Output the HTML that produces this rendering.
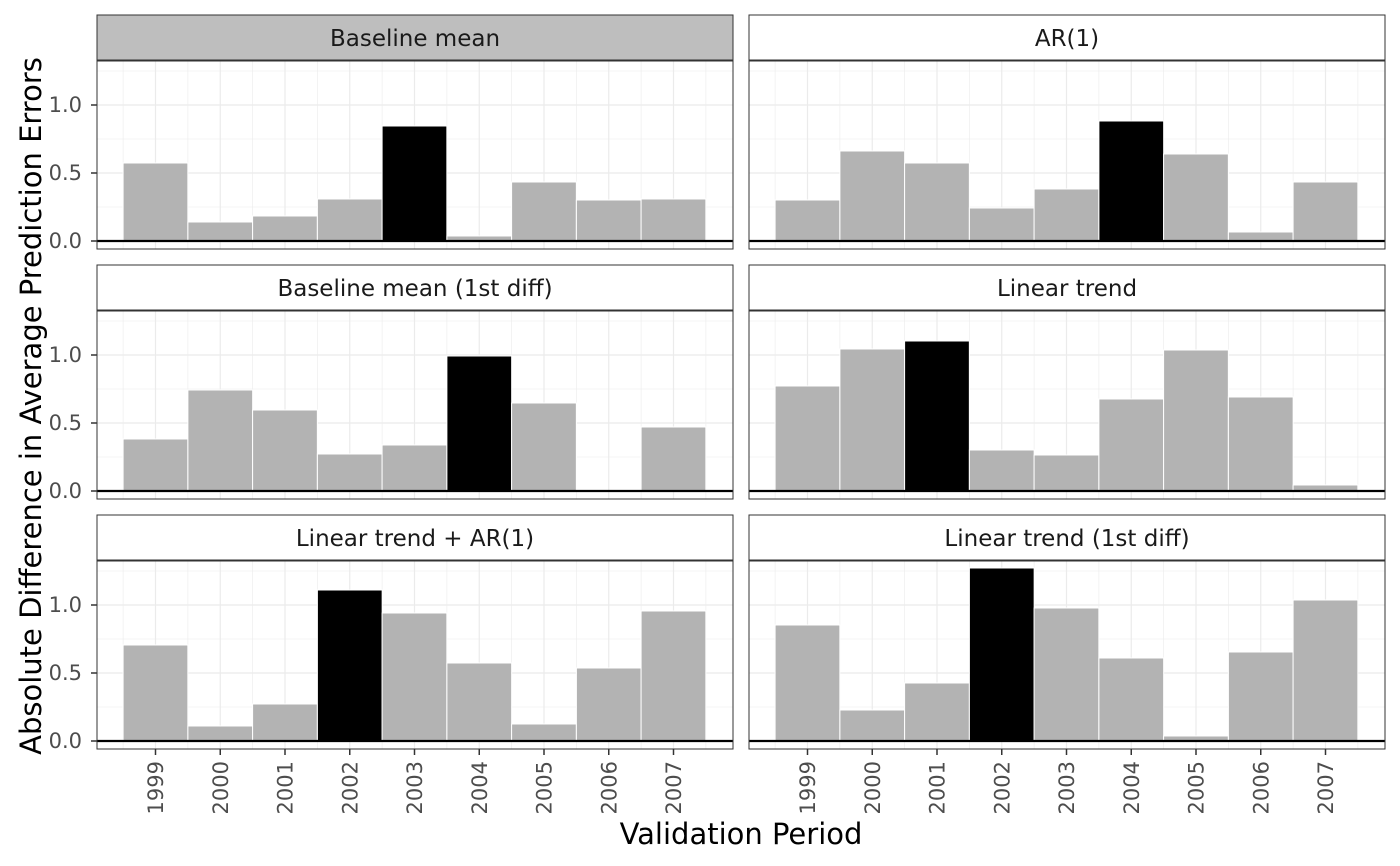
<!DOCTYPE html>
<html><head><meta charset="utf-8"><style>body{margin:0;background:#fff}svg{display:block}text{font-family:"DejaVu Sans","Liberation Sans",sans-serif}</style></head><body>
<svg width="1400" height="866" viewBox="0 0 1400 866" xmlns="http://www.w3.org/2000/svg">
<defs>
<g id="grid">
<rect x="0" y="0" width="636" height="188" fill="#fff"/>
<g stroke="#ebebeb" stroke-width="0.6">
<line x1="0" x2="636" y1="146" y2="146"/><line x1="0" x2="636" y1="78" y2="78"/><line x1="0" x2="636" y1="10" y2="10"/>
<line x1="26.1" x2="26.1" y1="0" y2="188"/><line x1="90.9" x2="90.9" y1="0" y2="188"/><line x1="155.6" x2="155.6" y1="0" y2="188"/><line x1="220.4" x2="220.4" y1="0" y2="188"/><line x1="285.1" x2="285.1" y1="0" y2="188"/><line x1="349.9" x2="349.9" y1="0" y2="188"/><line x1="414.6" x2="414.6" y1="0" y2="188"/><line x1="479.4" x2="479.4" y1="0" y2="188"/><line x1="544.1" x2="544.1" y1="0" y2="188"/><line x1="608.9" x2="608.9" y1="0" y2="188"/>
</g>
<g stroke="#ebebeb" stroke-width="1.2">
<line x1="0" x2="636" y1="180" y2="180"/><line x1="0" x2="636" y1="112" y2="112"/><line x1="0" x2="636" y1="44" y2="44"/>
<line x1="58.5" x2="58.5" y1="0" y2="188"/><line x1="123.25" x2="123.25" y1="0" y2="188"/><line x1="188" x2="188" y1="0" y2="188"/><line x1="252.75" x2="252.75" y1="0" y2="188"/><line x1="317.5" x2="317.5" y1="0" y2="188"/><line x1="382.25" x2="382.25" y1="0" y2="188"/><line x1="447" x2="447" y1="0" y2="188"/><line x1="511.75" x2="511.75" y1="0" y2="188"/><line x1="576.5" x2="576.5" y1="0" y2="188"/>
</g>
</g>
</defs>

<g stroke="#333" stroke-width="1">
<rect x="97" y="15" width="636" height="45" fill="#bebebe"/>
<rect x="749" y="15" width="636" height="45" fill="#fff"/>
<rect x="97" y="265" width="636" height="45" fill="#fff"/>
<rect x="749" y="265" width="636" height="45" fill="#fff"/>
<rect x="97" y="515" width="636" height="45" fill="#fff"/>
<rect x="749" y="515" width="636" height="45" fill="#fff"/>
</g>
<g font-size="23" fill="#1a1a1a" text-anchor="middle">
<text x="415" y="46">Baseline mean</text>
<text x="1067" y="46">AR(1)</text>
<text x="415" y="296">Baseline mean (1st diff)</text>
<text x="1067" y="296">Linear trend</text>
<text x="415" y="546">Linear trend + AR(1)</text>
<text x="1067" y="546">Linear trend (1st diff)</text>
</g>

<g transform="translate(97,61)">
<use href="#grid"/>
<g fill="#b3b3b3" stroke="#fff" stroke-width="1">
<rect x="26.1" y="102" width="64.75" height="78"/>
<rect x="90.9" y="161" width="64.75" height="19"/>
<rect x="155.6" y="155" width="64.75" height="25"/>
<rect x="220.4" y="138" width="64.75" height="42"/>
<rect x="285.1" y="65" width="64.75" height="115" fill="#000"/>
<rect x="349.9" y="175" width="64.75" height="5"/>
<rect x="414.6" y="121" width="64.75" height="59"/>
<rect x="479.4" y="139" width="64.75" height="41"/>
<rect x="544.1" y="138" width="64.75" height="42"/>
</g>
<line x1="0" x2="636" y1="180" y2="180" stroke="#000" stroke-width="2.2"/>
<rect x="0" y="0" width="636" height="188" fill="none" stroke="#333" stroke-width="1"/>
</g>
<g transform="translate(749,61)">
<use href="#grid"/>
<g fill="#b3b3b3" stroke="#fff" stroke-width="1">
<rect x="26.1" y="139" width="64.75" height="41"/>
<rect x="90.9" y="90" width="64.75" height="90"/>
<rect x="155.6" y="102" width="64.75" height="78"/>
<rect x="220.4" y="147" width="64.75" height="33"/>
<rect x="285.1" y="128" width="64.75" height="52"/>
<rect x="349.9" y="60" width="64.75" height="120" fill="#000"/>
<rect x="414.6" y="93" width="64.75" height="87"/>
<rect x="479.4" y="171" width="64.75" height="9"/>
<rect x="544.1" y="121" width="64.75" height="59"/>
</g>
<line x1="0" x2="636" y1="180" y2="180" stroke="#000" stroke-width="2.2"/>
<rect x="0" y="0" width="636" height="188" fill="none" stroke="#333" stroke-width="1"/>
</g>
<g transform="translate(97,311)">
<use href="#grid"/>
<g fill="#b3b3b3" stroke="#fff" stroke-width="1">
<rect x="26.1" y="128" width="64.75" height="52"/>
<rect x="90.9" y="79" width="64.75" height="101"/>
<rect x="155.6" y="99" width="64.75" height="81"/>
<rect x="220.4" y="143" width="64.75" height="37"/>
<rect x="285.1" y="134" width="64.75" height="46"/>
<rect x="349.9" y="45" width="64.75" height="135" fill="#000"/>
<rect x="414.6" y="92" width="64.75" height="88"/>
<rect x="544.1" y="116" width="64.75" height="64"/>
</g>
<line x1="0" x2="636" y1="180" y2="180" stroke="#000" stroke-width="2.2"/>
<rect x="0" y="0" width="636" height="188" fill="none" stroke="#333" stroke-width="1"/>
</g>
<g transform="translate(749,311)">
<use href="#grid"/>
<g fill="#b3b3b3" stroke="#fff" stroke-width="1">
<rect x="26.1" y="75" width="64.75" height="105"/>
<rect x="90.9" y="38" width="64.75" height="142"/>
<rect x="155.6" y="30" width="64.75" height="150" fill="#000"/>
<rect x="220.4" y="139" width="64.75" height="41"/>
<rect x="285.1" y="144" width="64.75" height="36"/>
<rect x="349.9" y="88" width="64.75" height="92"/>
<rect x="414.6" y="39" width="64.75" height="141"/>
<rect x="479.4" y="86" width="64.75" height="94"/>
<rect x="544.1" y="174" width="64.75" height="6"/>
</g>
<line x1="0" x2="636" y1="180" y2="180" stroke="#000" stroke-width="2.2"/>
<rect x="0" y="0" width="636" height="188" fill="none" stroke="#333" stroke-width="1"/>
</g>
<g transform="translate(97,561)">
<use href="#grid"/>
<g fill="#b3b3b3" stroke="#fff" stroke-width="1">
<rect x="26.1" y="84" width="64.75" height="96"/>
<rect x="90.9" y="165" width="64.75" height="15"/>
<rect x="155.6" y="143" width="64.75" height="37"/>
<rect x="220.4" y="29" width="64.75" height="151" fill="#000"/>
<rect x="285.1" y="52" width="64.75" height="128"/>
<rect x="349.9" y="102" width="64.75" height="78"/>
<rect x="414.6" y="163" width="64.75" height="17"/>
<rect x="479.4" y="107" width="64.75" height="73"/>
<rect x="544.1" y="50" width="64.75" height="130"/>
</g>
<line x1="0" x2="636" y1="180" y2="180" stroke="#000" stroke-width="2.2"/>
<rect x="0" y="0" width="636" height="188" fill="none" stroke="#333" stroke-width="1"/>
</g>
<g transform="translate(749,561)">
<use href="#grid"/>
<g fill="#b3b3b3" stroke="#fff" stroke-width="1">
<rect x="26.1" y="64" width="64.75" height="116"/>
<rect x="90.9" y="149" width="64.75" height="31"/>
<rect x="155.6" y="122" width="64.75" height="58"/>
<rect x="220.4" y="7" width="64.75" height="173" fill="#000"/>
<rect x="285.1" y="47" width="64.75" height="133"/>
<rect x="349.9" y="97" width="64.75" height="83"/>
<rect x="414.6" y="175" width="64.75" height="5"/>
<rect x="479.4" y="91" width="64.75" height="89"/>
<rect x="544.1" y="39" width="64.75" height="141"/>
</g>
<line x1="0" x2="636" y1="180" y2="180" stroke="#000" stroke-width="2.2"/>
<rect x="0" y="0" width="636" height="188" fill="none" stroke="#333" stroke-width="1"/>
</g>

<g stroke="#333" stroke-width="1.5">
<line x1="91" x2="97" y1="105" y2="105"/><line x1="91" x2="97" y1="173" y2="173"/><line x1="91" x2="97" y1="241" y2="241"/>
<line x1="91" x2="97" y1="355" y2="355"/><line x1="91" x2="97" y1="423" y2="423"/><line x1="91" x2="97" y1="491" y2="491"/>
<line x1="91" x2="97" y1="605" y2="605"/><line x1="91" x2="97" y1="673" y2="673"/><line x1="91" x2="97" y1="741" y2="741"/>
</g>
<g font-size="21" fill="#4d4d4d" text-anchor="end">
<text x="82" y="112">1.0</text><text x="82" y="180">0.5</text><text x="82" y="248">0.0</text>
<text x="82" y="362">1.0</text><text x="82" y="430">0.5</text><text x="82" y="498">0.0</text>
<text x="82" y="612">1.0</text><text x="82" y="680">0.5</text><text x="82" y="748">0.0</text>
</g>

<g stroke="#333" stroke-width="1.5">
<line x1="155.5" x2="155.5" y1="749" y2="755"/><line x1="220.25" x2="220.25" y1="749" y2="755"/><line x1="285" x2="285" y1="749" y2="755"/><line x1="349.75" x2="349.75" y1="749" y2="755"/><line x1="414.5" x2="414.5" y1="749" y2="755"/><line x1="479.25" x2="479.25" y1="749" y2="755"/><line x1="544" x2="544" y1="749" y2="755"/><line x1="608.75" x2="608.75" y1="749" y2="755"/><line x1="673.5" x2="673.5" y1="749" y2="755"/>
<line x1="807.5" x2="807.5" y1="749" y2="755"/><line x1="872.25" x2="872.25" y1="749" y2="755"/><line x1="937" x2="937" y1="749" y2="755"/><line x1="1001.75" x2="1001.75" y1="749" y2="755"/><line x1="1066.5" x2="1066.5" y1="749" y2="755"/><line x1="1131.25" x2="1131.25" y1="749" y2="755"/><line x1="1196" x2="1196" y1="749" y2="755"/><line x1="1260.75" x2="1260.75" y1="749" y2="755"/><line x1="1325.5" x2="1325.5" y1="749" y2="755"/>
</g>
<g font-size="21" fill="#4d4d4d" text-anchor="end">
<text transform="translate(163,761) rotate(-90)">1999</text>
<text transform="translate(227.75,761) rotate(-90)">2000</text>
<text transform="translate(292.5,761) rotate(-90)">2001</text>
<text transform="translate(357.25,761) rotate(-90)">2002</text>
<text transform="translate(422,761) rotate(-90)">2003</text>
<text transform="translate(486.75,761) rotate(-90)">2004</text>
<text transform="translate(551.5,761) rotate(-90)">2005</text>
<text transform="translate(616.25,761) rotate(-90)">2006</text>
<text transform="translate(681,761) rotate(-90)">2007</text>
<text transform="translate(815,761) rotate(-90)">1999</text>
<text transform="translate(879.75,761) rotate(-90)">2000</text>
<text transform="translate(944.5,761) rotate(-90)">2001</text>
<text transform="translate(1009.25,761) rotate(-90)">2002</text>
<text transform="translate(1074,761) rotate(-90)">2003</text>
<text transform="translate(1138.75,761) rotate(-90)">2004</text>
<text transform="translate(1203.5,761) rotate(-90)">2005</text>
<text transform="translate(1268.25,761) rotate(-90)">2006</text>
<text transform="translate(1333,761) rotate(-90)">2007</text>
</g>

<text x="741" y="844" font-size="29" fill="#000" text-anchor="middle">Validation Period</text>
<text transform="translate(41,406) rotate(-90)" font-size="29" fill="#000" text-anchor="middle">Absolute Difference in Average Prediction Errors</text>
</svg>
</body></html>
